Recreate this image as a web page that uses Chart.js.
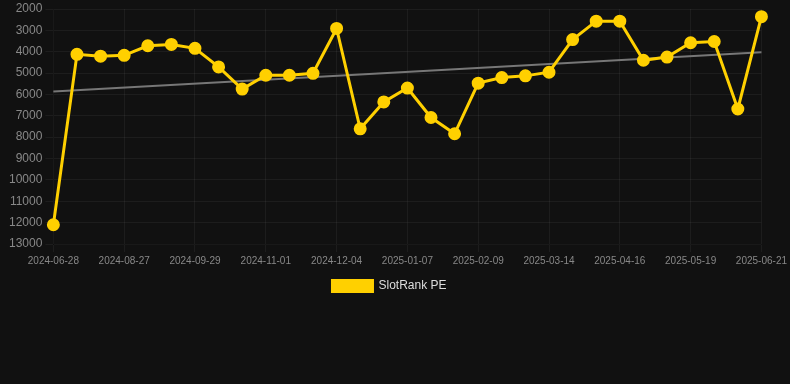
<!DOCTYPE html>
<html lang="en">
<head>
  <meta charset="UTF-8" />
  <title>SlotRank PE</title>
  <style>
    body {
      margin: 0;
      padding: 0;
      background-color: #111111;
      font-family: Arial, "Liberation Sans", sans-serif;
    }

    .chart-box {
      width: 790px;
      height: 302px;
      position: relative;
    }
  </style>
  <script src="https://cdn.jsdelivr.net/npm/chart.js"></script>
</head>
<body>

  <div class="chart-box">
    <canvas id="rankChart"></canvas>
  </div>

  <script>
    const dates = [
      '2024-06-28', '2024-08-05', '2024-08-16', '2024-08-27', '2024-09-07', '2024-09-18',
      '2024-09-29', '2024-10-10', '2024-10-21', '2024-11-01', '2024-11-12', '2024-11-23',
      '2024-12-04', '2024-12-15', '2024-12-26', '2025-01-07', '2025-01-18', '2025-01-29',
      '2025-02-09', '2025-02-20', '2025-03-03', '2025-03-14', '2025-03-25', '2025-04-05',
      '2025-04-16', '2025-04-27', '2025-05-08', '2025-05-19', '2025-05-30', '2025-06-10',
      '2025-06-21'
    ];
    const rankPE = [
      12100, 4120, 4210, 4170, 3720, 3660, 3840, 4710, 5750, 5100, 5100, 5010,
      2910, 7610, 6350, 5700, 7080, 7840, 5470, 5210, 5130, 4960, 3430, 2570,
      2570, 4400, 4250, 3580, 3520, 6680, 2360
    ];
    const trendStart = 5860;
    const trendEnd = 4030;

    // trend line: only the two ends, the gap is spanned
    const trend = dates.map((d, i) => i === 0 ? trendStart : (i === dates.length - 1 ? trendEnd : null));

    const ctx = document.getElementById('rankChart').getContext('2d');
    new Chart(ctx, {
      type: 'line',
      data: {
        labels: dates,
        datasets: [
          {
            label: 'SlotRank PE',
            data: rankPE,
            borderColor: '#FFD000',
            backgroundColor: '#FFD000',
            borderWidth: 3,
            pointRadius: 5,
            pointBackgroundColor: '#FFD000',
            tension: 0
          },
          {
            label: 'Trend',
            data: trend,
            borderColor: '#777777',
            borderWidth: 2,
            pointRadius: 0,
            spanGaps: true,
            tension: 0
          }
        ]
      },
      options: {
        responsive: true,
        maintainAspectRatio: false,
        animation: false,
        layout: {
          padding: { left: 6, right: 17, top: 0, bottom: 0 }
        },
        plugins: {
          legend: {
            position: 'bottom',
            labels: {
              color: '#dddddd',
              font: { size: 12 },
              boxWidth: 40,
              boxHeight: 11,
              filter: item => item.text !== 'Trend'
            }
          },
          tooltip: { enabled: false }
        },
        scales: {
          x: {
            grid: { color: 'rgba(255,255,255,0.05)' },
            ticks: {
              color: '#888888',
              font: { size: 10 },
              maxRotation: 0,
              autoSkip: true,
              maxTicksLimit: 11
            }
          },
          y: {
            reverse: true,
            min: 2000,
            max: 13000,
            grid: { color: 'rgba(255,255,255,0.05)' },
            ticks: {
              color: '#888888',
              font: { size: 12, lineHeight: 1 },
              stepSize: 1000,
              callback: val => String(val)
            }
          }
        }
      }
    });
  </script>

</body>
</html>
